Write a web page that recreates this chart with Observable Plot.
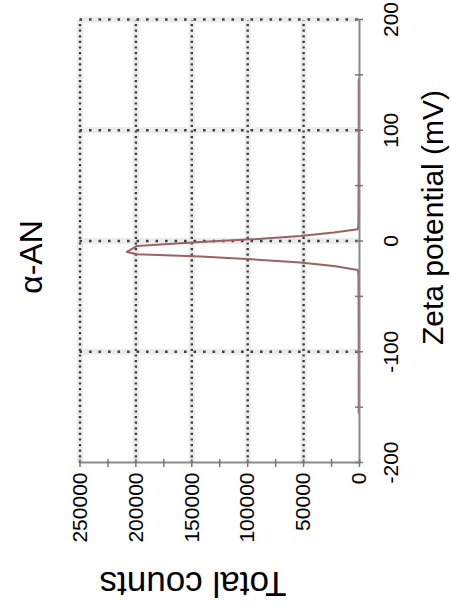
<!DOCTYPE html>
<html><head><meta charset="utf-8">
<script src="https://cdn.jsdelivr.net/npm/d3@7"></script>
<script src="https://cdn.jsdelivr.net/npm/@observablehq/plot@0.6"></script>
<style>
html,body{margin:0;padding:0;background:#fff;}
#wrap{position:relative;width:451px;height:610px;overflow:hidden;background:#fff;}
#wrap svg{position:absolute;left:0;top:0;width:610px !important;height:451px !important;max-width:none !important;transform-origin:0 0;transform:translate(0px,610px) rotate(-90deg);}
</style></head>
<body><div id="wrap"></div>
<script>
// Data (zeta potential in mV, total counts)
const zeta   = [-155, -100, -60, -40, -30, -26.2, -22.6, -19.5, -16.5, -14.1, -12, -9.9, -4.5, -0.9, 1.5, 4.5, 7.6, 10.6, 15, 30, 60, 100, 146];
const counts = [700, 700, 800, 900, 1000, 1500, 23000, 53000, 97000, 142000, 199000, 208000, 199000, 142000, 97000, 53000, 23000, 1500, 1000, 900, 800, 700, 700];

const zetaTicks = [-200, -100, 0, 100, 200];
const zetaGrid = [-100, 0, 100, 200];
const zetaMinor = [-200, -150, -100, -50, 0, 50, 100, 150, 200];
const countTicks = [0, 50000, 100000, 150000, 200000, 250000];
const countGrid = [50000, 100000, 150000, 200000, 250000];
const countMinor = [0, 25000, 50000, 75000, 100000, 125000, 150000, 175000, 200000, 225000, 250000];

const titleText = "α-AN";
const xLabel = "Zeta potential (mV)";
const yLabel = "Total counts";

const rows = zeta.map((z, i) => ({z, c: counts[i]}));

const chart = Plot.plot({
  width: 610,
  height: 451,
  marginLeft: 147,
  marginRight: 20,
  marginTop: 79.5,
  marginBottom: 92,
  style: {fontFamily: "'Liberation Sans', Arial, sans-serif", fontSize: "21px", color: "#000", background: "#fff", overflow: "visible"},
  x: {domain: [-200, 200], ticks: zetaTicks, tickSize: 0, tickPadding: 24, label: null, tickFormat: d => String(d)},
  y: {domain: [0, 250000], ticks: countTicks, tickSize: 0, tickPadding: 10, label: null, tickFormat: d => String(d)},
  marks: [
    // soft halo around grid lines
    Plot.ruleY(countGrid, {stroke: "#ececec", strokeWidth: 6}),
    Plot.ruleX(zetaGrid, {stroke: "#ececec", strokeWidth: 6}),
    // dotted grid
    Plot.ruleY(countGrid, {stroke: "#404040", strokeWidth: 2.4, strokeDasharray: "2.2 3.4"}),
    Plot.ruleX(zetaGrid, {stroke: "#404040", strokeWidth: 2.6, strokeDasharray: "2.6 6.9"}),
    // data line
    Plot.line(rows, {x: "z", y: "c", stroke: "#9c6262", strokeWidth: 2}),
    // axis lines
    Plot.ruleY([0], {stroke: "#8a8a8a", strokeWidth: 2}),
    Plot.ruleX([-200], {stroke: "#8a8a8a", strokeWidth: 2}),
    // tick marks crossing the axes
    Plot.ruleX(zetaMinor, {y1: () => 0, y2: () => 0, insetTop: -4, insetBottom: -4, stroke: "#777", strokeWidth: 1.5}),
    Plot.ruleY(countMinor, {x1: () => -200, x2: () => -200, insetLeft: -4, insetRight: -4, stroke: "#777", strokeWidth: 1.5}),
    // texts
    Plot.text([titleText], {frameAnchor: "top", textAnchor: "middle", lineAnchor: "middle", dx: -16, dy: -48.5, fontSize: 32, fill: "#000"}),
    Plot.text([xLabel], {frameAnchor: "bottom", textAnchor: "middle", lineAnchor: "middle", dx: 23.5, dy: 73.5, fontSize: 30, fill: "#000"}),
    Plot.text([yLabel], {frameAnchor: "left", textAnchor: "middle", lineAnchor: "middle", rotate: -90, dx: -121, dy: -26.75, fontSize: 35, fill: "#000"})
  ]
});
chart.style.maxWidth = "none";
document.getElementById("wrap").appendChild(chart);
</script>
</body></html>
